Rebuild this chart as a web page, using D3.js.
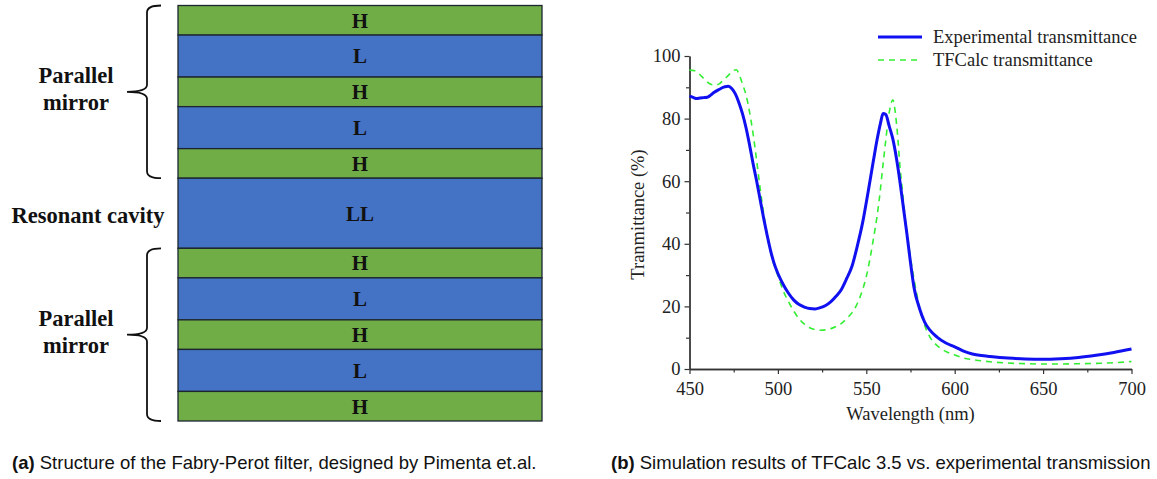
<!DOCTYPE html>
<html>
<head>
<meta charset="utf-8">
<script src="https://cdn.jsdelivr.net/npm/d3@7"></script>
<style>
  html, body { margin: 0; padding: 0; background: #fff; }
  svg { display: block; }
</style>
</head>
<body>
<svg id="chart" width="1157" height="479"></svg>
<script>
// ---------- DATA ----------
// (a) Fabry-Perot stack, top to bottom
const layerNames = ["H", "L", "H", "L", "H", "LL", "H", "L", "H", "L", "H"];
const layerThickness = [1, 1.42, 1, 1.42, 1, 2.37, 1, 1.42, 1, 1.42, 1];
const groupLabels = [
  { lines: ["Parallel", "mirror"], from: 0, to: 5, brace: true },
  { lines: ["Resonant cavity"], from: 5, to: 6, brace: false },
  { lines: ["Parallel", "mirror"], from: 6, to: 11, brace: true }
];

// (b) Transmittance spectra
const expWavelength = [450,452,454,456,458,460,462,464,466,468,470,472,474,476,478,480,482,484,486,488,490,492,494,496,498,500,503,506,509,512,515,518,521,524,527,530,533,536,539,542,545,548,551,554,556,558,559.5,561,563,565,567,569,571,573,575,577,580,583,586,590,595,600,605,610,615,620,630,640,650,660,670,680,690,700];
const expTransmittance = [87.2,86.8,86.4,86.6,86.7,86.8,87.5,88.4,89.1,89.7,90.2,90.3,89.5,87.8,85.0,81.5,77.0,71.5,65.5,60.0,54.0,48.0,42.5,37.5,33.5,30.5,27.0,24.2,22.0,20.6,19.8,19.3,19.2,19.6,20.3,21.5,23.3,25.5,29.0,33.0,39.5,47.0,56.5,66.5,73.0,78.5,81.6,81.3,77.5,73.5,67.5,60.0,51.5,43.0,34.0,26.0,19.5,15.0,12.4,10.2,8.3,7.1,5.7,4.8,4.3,4.0,3.5,3.2,3.1,3.3,3.7,4.4,5.3,6.4];

const calcWavelength = [450,453,455,457,459,461,463,465,467,469,471,473,475,476.5,478,480,482,484,486,488,490,492,494,496,498,500,503,506,509,512,515,518,521,524,527,530,533,536,539,542,545,548,550,552,554,556,557.5,559.4,561,562.2,563.5,565,566.5,567.8,569,570.7,572.2,574,576,578,580,583,586,590,595,600,605,610,620,630,640,650,660,670,680,690,700];
const calcTransmittance = [95.5,95.3,94.5,93.4,92.3,91.3,90.8,90.7,91.2,92.2,93.3,94.4,95.4,95.6,94.2,91.0,87.5,82.0,75.0,66.5,57.5,49.5,42.5,37.0,33.0,29.8,25.0,21.5,18.5,16.0,14.3,13.2,12.6,12.4,12.5,12.9,13.6,14.6,16.2,18.0,21.0,25.5,29.5,35.0,41.5,48.5,55.0,65.0,73.0,79.0,83.5,86.0,81.5,74.0,65.0,55.5,47.0,39.5,32.0,25.5,20.0,14.0,10.2,7.5,5.6,4.5,3.5,3.0,2.3,1.9,1.7,1.6,1.6,1.7,1.8,2.0,2.4];

const xMajorTicks = [450, 500, 550, 600, 650, 700];
const xMinorTicks = [475, 525, 575, 625, 675];
const yMajorTicks = [0, 20, 40, 60, 80, 100];
const yMinorTicks = [10, 30, 50, 70, 90];

const seriesNames = ["Experimental transmittance", "TFCalc transmittance"];
const captionA = { bold: "(a)", text: " Structure of the Fabry-Perot filter, designed by Pimenta et.al." };
const captionB = { bold: "(b)", text: " Simulation results of TFCalc 3.5 vs. experimental transmission" };

// ---------- DRAW ----------
const svg = d3.select("#chart");
svg.append("rect").attr("width", 1157).attr("height", 479).attr("fill", "#fff");

const serif = "'Liberation Serif', 'Times New Roman', serif";
const sans = "'Liberation Sans', Arial, sans-serif";

// ---- (a) stack ----
const cum = [0];
layerThickness.forEach(t => cum.push(cum[cum.length - 1] + t));
const stackY = d3.scaleLinear().domain([0, cum[cum.length - 1]]).range([5.5, 421]);
const stackX0 = 178, stackX1 = 542;
const colorFor = n => n.startsWith("H") ? "#70ad47" : "#4472c4";

const gA = svg.append("g");
gA.selectAll("rect.layer").data(layerNames).join("rect")
  .attr("class", "layer")
  .attr("x", stackX0)
  .attr("y", (d, i) => stackY(cum[i]))
  .attr("width", stackX1 - stackX0)
  .attr("height", (d, i) => stackY(cum[i + 1]) - stackY(cum[i]))
  .attr("fill", colorFor)
  .attr("stroke", "#1c2530")
  .attr("stroke-width", 1.3);

gA.selectAll("text.layer").data(layerNames).join("text")
  .attr("class", "layer")
  .attr("x", (stackX0 + stackX1) / 2)
  .attr("y", (d, i) => (stackY(cum[i]) + stackY(cum[i + 1])) / 2)
  .attr("dy", "0.35em")
  .attr("text-anchor", "middle")
  .attr("font-family", serif)
  .attr("font-weight", "bold")
  .attr("font-size", 21)
  .attr("fill", "#111")
  .text(d => d);

groupLabels.forEach(g => {
  const top = stackY(cum[g.from]);
  const bot = stackY(cum[g.to]);
  const mid = (top + bot) / 2;
  if (g.brace) {
    const bx = 147, tipX = 127, endX = 161, r = 7;
    const p = d3.path();
    p.moveTo(endX, top);
    p.quadraticCurveTo(bx, top, bx, top + r);
    p.lineTo(bx, mid - r);
    p.quadraticCurveTo(bx, mid, tipX, mid);
    p.quadraticCurveTo(bx, mid, bx, mid + r);
    p.lineTo(bx, bot - r);
    p.quadraticCurveTo(bx, bot, endX, bot);
    gA.append("path").attr("d", p.toString())
      .attr("fill", "none").attr("stroke", "#111").attr("stroke-width", 1.8);
    const t = gA.append("text")
      .attr("x", 76).attr("text-anchor", "middle")
      .attr("font-family", serif).attr("font-weight", "bold")
      .attr("font-size", 22.5).attr("fill", "#111");
    g.lines.forEach((ln, i) => {
      t.append("tspan").attr("x", 76).attr("y", mid - 9 + i * 27).text(ln);
    });
  } else {
    gA.append("text")
      .attr("x", 88).attr("y", mid + 10).attr("text-anchor", "middle")
      .attr("font-family", serif).attr("font-weight", "bold")
      .attr("font-size", 22.5).attr("fill", "#111")
      .text(g.lines[0]);
  }
});

// ---- (b) spectrum chart ----
const x = d3.scaleLinear().domain([450, 700]).range([689.5, 1131.5]);
const y = d3.scaleLinear().domain([0, 100]).range([369, 56]);
const axisColor = "#333";
const tickFont = 18.5;

const gB = svg.append("g");

const xAxis = gB.append("g").attr("transform", `translate(0,${y(0)})`)
  .call(d3.axisBottom(x).tickValues(xMajorTicks).tickSize(5).tickPadding(8).tickSizeOuter(0));
const xMinor = gB.append("g").attr("transform", `translate(0,${y(0)})`)
  .call(d3.axisBottom(x).tickValues(xMinorTicks).tickSize(3.5).tickFormat("").tickSizeOuter(0));
const yAxis = gB.append("g").attr("transform", `translate(${x(450)},0)`)
  .call(d3.axisLeft(y).tickValues(yMajorTicks).tickSize(5).tickPadding(4).tickSizeOuter(0));
const yMinor = gB.append("g").attr("transform", `translate(${x(450)},0)`)
  .call(d3.axisLeft(y).tickValues(yMinorTicks).tickSize(3.5).tickFormat("").tickSizeOuter(0));

[xAxis, xMinor, yAxis, yMinor].forEach(a => {
  a.selectAll("path.domain").attr("stroke", axisColor).attr("stroke-width", 1.3);
  a.selectAll(".tick line").attr("stroke", axisColor).attr("stroke-width", 1.2);
  a.selectAll(".tick text").attr("font-family", serif).attr("font-size", tickFont).attr("fill", "#222");
});

const line = d3.line().x(d => x(d[0])).y(d => y(d[1])).curve(d3.curveMonotoneX);
const calcPts = calcWavelength.map((w, i) => [w, calcTransmittance[i]]);
const expPts = expWavelength.map((w, i) => [w, expTransmittance[i]]);

gB.append("path").datum(calcPts).attr("d", line)
  .attr("fill", "none").attr("stroke", "#33ee33").attr("stroke-width", 1.6)
  .attr("stroke-dasharray", "6,5");
gB.append("path").datum(expPts).attr("d", line)
  .attr("fill", "none").attr("stroke", "#1010f0").attr("stroke-width", 3)
  .attr("stroke-linejoin", "round");

// axis titles
gB.append("text")
  .attr("x", (x(450) + x(700)) / 2).attr("y", 420)
  .attr("text-anchor", "middle")
  .attr("font-family", serif).attr("font-size", tickFont).attr("fill", "#222")
  .text("Wavelength (nm)");
gB.append("text")
  .attr("transform", `translate(644,${(y(0) + y(100)) / 2 + 2}) rotate(-90)`)
  .attr("text-anchor", "middle")
  .attr("font-family", serif).attr("font-size", tickFont).attr("fill", "#222")
  .text("Tranmittance (%)");

// legend
const legend = gB.append("g");
const legendStyles = [
  { stroke: "#1010f0", width: 3, dash: null },
  { stroke: "#33ee33", width: 1.6, dash: "6,5" }
];
seriesNames.forEach((name, i) => {
  const ly = 37 + i * 23;
  legend.append("line")
    .attr("x1", 878).attr("x2", 922).attr("y1", ly).attr("y2", ly)
    .attr("stroke", legendStyles[i].stroke)
    .attr("stroke-width", legendStyles[i].width)
    .attr("stroke-dasharray", legendStyles[i].dash);
  legend.append("text")
    .attr("x", 933).attr("y", ly).attr("dy", "0.33em")
    .attr("font-family", serif).attr("font-size", tickFont).attr("fill", "#222")
    .text(name);
});

// captions
[[captionA, 12], [captionB, 611]].forEach(([c, cx]) => {
  const t = svg.append("text")
    .attr("x", cx).attr("y", 469)
    .attr("font-family", sans).attr("font-size", 18.5).attr("fill", "#111");
  t.append("tspan").attr("font-weight", "bold").text(c.bold);
  t.append("tspan").text(c.text);
});
</script>
</body>
</html>
